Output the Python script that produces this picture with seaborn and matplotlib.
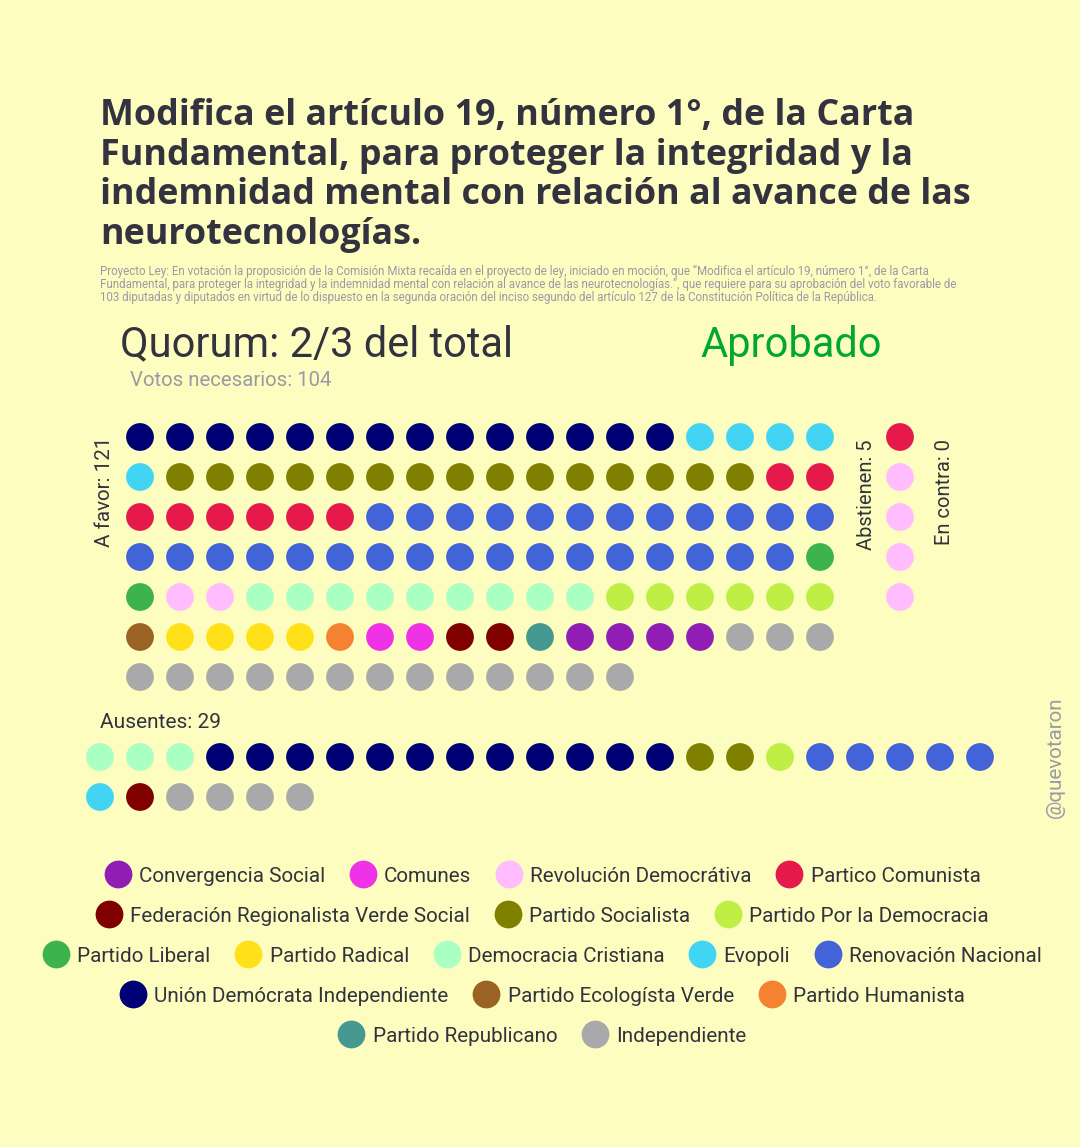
import pandas as pd
import seaborn as sns
import matplotlib.pyplot as plt
from matplotlib.lines import Line2D

# %%
# votes per party, in the order the dots are laid out

favor_parties = ["Unión Demócrata Independiente", "Evopoli", "Partido Socialista", "Partico Comunista",
                 "Renovación Nacional", "Partido Liberal", "Revolución Democrátiva", "Democracia Cristiana",
                 "Partido Por la Democracia", "Partido Ecologísta Verde", "Partido Radical", "Partido Humanista",
                 "Comunes", "Federación Regionalista Verde Social", "Partido Republicano", "Convergencia Social",
                 "Independiente"]
favor_counts = [14, 5, 15, 8, 29, 2, 2, 9, 6, 1, 4, 1, 2, 2, 1, 4, 16]

abst_parties = ["Partico Comunista", "Revolución Democrátiva"]
abst_counts = [1, 4]

aus_parties = ["Democracia Cristiana", "Unión Demócrata Independiente", "Partido Socialista",
               "Partido Por la Democracia", "Renovación Nacional", "Evopoli",
               "Federación Regionalista Verde Social", "Independiente"]
aus_counts = [3, 12, 2, 1, 5, 1, 1, 4]

legend_rows = [
    ["Convergencia Social", "Comunes", "Revolución Democrátiva", "Partico Comunista"],
    ["Federación Regionalista Verde Social", "Partido Socialista", "Partido Por la Democracia"],
    ["Partido Liberal", "Partido Radical", "Democracia Cristiana", "Evopoli", "Renovación Nacional"],
    ["Unión Demócrata Independiente", "Partido Ecologísta Verde", "Partido Humanista"],
    ["Partido Republicano", "Independiente"],
]

party_colors = {
    "Convergencia Social": "#911eb4",
    "Comunes": "#f032e6",
    "Revolución Democrátiva": "#ffbcff",
    "Partico Comunista": "#e6194b",
    "Federación Regionalista Verde Social": "#800000",
    "Partido Socialista": "#808000",
    "Partido Por la Democracia": "#bfef45",
    "Partido Liberal": "#3cb44b",
    "Partido Radical": "#ffe119",
    "Democracia Cristiana": "#aaffc3",
    "Evopoli": "#42d4f4",
    "Renovación Nacional": "#4363d8",
    "Unión Demócrata Independiente": "#000075",
    "Partido Ecologísta Verde": "#9a6324",
    "Partido Humanista": "#f58231",
    "Partido Republicano": "#469990",
    "Independiente": "#a9a9a9",
}

BG = "#fdfdbf"
DARK = "#333340"
GREY = "#9a9aa6"


def waffle(parties, counts, per_row, col0, row0):
    names = [p for p, c in zip(parties, counts) for _ in range(c)]
    df = pd.DataFrame({"party": names})
    df["col"] = col0 + df.index % per_row
    df["row"] = row0 + df.index // per_row
    return df


dots = pd.concat([
    waffle(favor_parties, favor_counts, 18, 0, 0),
    waffle(abst_parties, abst_counts, 1, 19, 0),
    waffle(aus_parties, aus_counts, 23, -1, 8),
])

# %%
sns.set_theme(style="white")
plt.rcParams["font.family"] = ["Roboto", "DejaVu Sans"]

W, H = 1080, 1147
fig = plt.figure(figsize=(W / 100, H / 100), dpi=100, facecolor=BG)
ax = fig.add_axes([0, 0, 1, 1])
ax.set_facecolor(BG)

sns.scatterplot(data=dots, x="col", y="row", hue="party", palette=party_colors,
                s=400, linewidth=0, legend=False, ax=ax)

# one grid unit = 40 px
ax.set_xlim(-3.5, 23.5)
ax.set_ylim(17.75, -10.925)
ax.axis("off")


def px(x, y):
    return x / W, 1 - y / H


title = ("Modifica el artículo 19, número 1°, de la Carta\n"
         "Fundamental, para proteger la integridad y la\n"
         "indemnidad mental con relación al avance de las\n"
         "neurotecnologías.")
fig.text(*px(100, 98), title, ha="left", va="top", fontsize=25.8, fontweight="bold",
         color=DARK, linespacing=1.13, family=["Open Sans", "DejaVu Sans"])

subtitle = ("Proyecto Ley: En votación la proposición de la Comisión Mixta recaída en el proyecto de ley, iniciado en moción, que “Modifica el artículo 19, número 1°, de la Carta\n"
            "Fundamental, para proteger la integridad y la indemnidad mental con relación al avance de las neurotecnologías.”, que requiere para su aprobación del voto favorable de\n"
            "103 diputadas y diputados en virtud de lo dispuesto en la segunda oración del inciso segundo del artículo 127 de la Constitución Política de la República.")
fig.text(*px(100, 265), subtitle, ha="left", va="top", fontsize=8.3, color=GREY, linespacing=1.0)

fig.text(*px(120, 345), "Quorum: 2/3 del total", ha="left", va="center", fontsize=30, color=DARK)
fig.text(*px(700, 345), "Aprobado", ha="left", va="center", fontsize=30, color="#00a82d")
fig.text(*px(130, 381), "Votos necesarios: 104", ha="left", va="center", fontsize=14.7, color=GREY)

fig.text(*px(104, 492), "A favor: 121", rotation=90, ha="center", va="center", fontsize=14.8, color=DARK)
fig.text(*px(866, 495), "Abstienen: 5", rotation=90, ha="center", va="center", fontsize=14.5, color=DARK)
fig.text(*px(944, 492), "En contra: 0", rotation=90, ha="center", va="center", fontsize=14.5, color=DARK)
fig.text(*px(100, 722), "Ausentes: 29", ha="left", va="center", fontsize=15, color=DARK)
fig.text(*px(1055, 757), "@quevotaron", rotation=90, ha="center", va="center", fontsize=14.8, color=GREY)

# legend, one centred row at a time
for i, row in enumerate(legend_rows):
    handles = [Line2D([], [], marker="o", linestyle="", markersize=20, markeredgewidth=0,
                      markerfacecolor=party_colors[p]) for p in row]
    fig.legend(handles, row, loc="center", bbox_to_anchor=px(542, 876 + 40 * i), ncol=len(row),
               frameon=False, fontsize=14.9, handlelength=1.35, handletextpad=0.35,
               columnspacing=1.15, labelcolor=DARK, borderpad=0, borderaxespad=0)

fig.savefig("out.png", dpi=100, facecolor=BG)
